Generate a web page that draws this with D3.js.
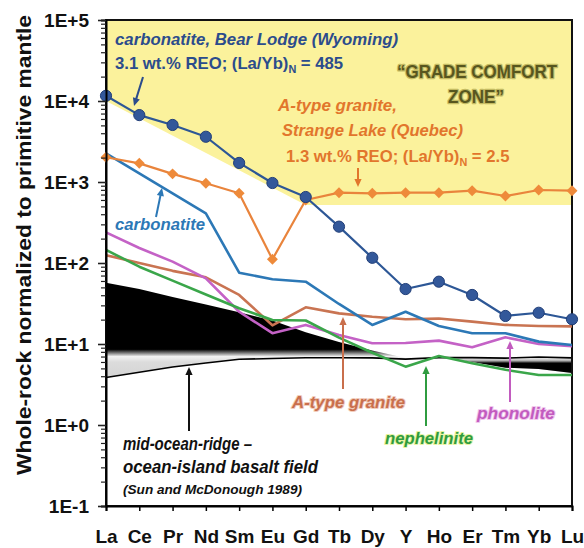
<!DOCTYPE html>
<html>
<head>
<meta charset="utf-8">
<script src="https://cdn.jsdelivr.net/npm/d3@7"></script>
<style>
  body { margin: 0; background: #fff; }
  svg { display: block; font-family: "Liberation Sans", Arial, sans-serif; font-weight: bold; }
</style>
</head>
<body>
<div id="chartArea"></div>
<script>
// REE + Y, normalized to primitive mantle
var categories = ['La','Ce','Pr','Nd','Sm','Eu','Gd','Tb','Dy','Y','Ho','Er','Tm','Yb','Lu'];
var bearLodge   = [11600, 6700, 5060, 3620, 1720, 972, 653, 281, 116, 47.7, 58.8, 40.3, 22.2, 24.3, 20.2];
var strangeLake = [2020, 1700, 1260, 965, 725, 111, 600, 738, 725, 738, 738, 781, 671, 797, 781];
var carbonatite = [2260, 1280, 725, 411, 75.9, 62.9, 58.8, 31.2, 17.2, 25, 16.7, 13.6, 13.6, 10.7, 9.7];
var aTypeGranite = [125, 100, 80, 66.6, 40.3, 17, 28.4, 23.9, 21.7, 20.2, 20.6, 18.9, 17.2, 16.7, 16.5];
var phonolite   = [239, 153, 104, 64.7, 25, 13.6, 17.2, 12.9, 10.2, 10.3, 11, 9.1, 12.1, 10, 9.4];
var nephelinite = [145, 90, 60.6, 40.8, 27.6, 19.8, 19.5, 12, 7.8, 5.25, 7.1, 5.8, 4.8, 4.14, 4.14];
// basalt field (Sun and McDonough 1989): OIB upper edge, N-MORB lower edge
var oibField  = [57, 47.8, 38, 30.8, 24.6, 19.5, 14, 10.6, 8.3, 6.7, 7.1, 6.0, 5.1, 4.9, 4.4];
var morbField = [3.86, 4.48, 5.2, 5.84, 6.48, 6.62, 6.76, 6.77, 6.75, 6.5, 6.78, 6.78, 6.7, 6.9, 6.74];
// "grade comfort zone" outline
var zoneCats = ['La','Lu','Lu','Gd','La'];
var zoneVals = [1e5, 1e5, 520, 520, 10000];
var yTickValues = [0.1, 1, 10, 100, 1000, 10000, 100000];
var yTickLabels = ['1E-1','1E+0','1E+1','1E+2','1E+3','1E+4','1E+5'];

var width = 584, height = 548;
var margin = {top: 20, right: 12, bottom: 42, left: 106};

var xscale = d3.scalePoint().domain(categories).range([margin.left, width - margin.right]);
var yscale = d3.scaleLog().domain([0.1, 1e5]).range([height - margin.bottom, margin.top]);

var svg = d3.select('#chartArea').append('svg')
    .attr('width', width)
    .attr('height', height);

var defs = svg.append('defs');
function gradient(id, stops) {
    // stops given as [value, colour]; converted to pixel offsets along y
    var y1 = yscale(stops[0][0]), y2 = yscale(stops[stops.length - 1][0]);
    var g = defs.append('linearGradient').attr('id', id)
        .attr('gradientUnits', 'userSpaceOnUse')
        .attr('x1', 0).attr('x2', 0).attr('y1', y1).attr('y2', y2);
    stops.forEach(function(s) {
        g.append('stop').attr('offset', (yscale(s[0]) - y1) / (y2 - y1)).attr('stop-color', s[1]);
    });
}
gradient('fieldGrad', [[60, '#000'], [8.6, '#000'], [7.0, '#f2f2f2'], [6.0, '#dcdcdc'], [3, '#d0d0d0']]);
gradient('wedgeGrad', [[7.0, '#555'], [6.6, '#e4e4e4'], [6.2, '#aaa'], [5.8, '#000'], [3, '#000']]);

// yellow zone
var zoneLine = d3.line().x(function(d){ return xscale(d[0]); }).y(function(d){ return yscale(d[1]); });
svg.append('path')
    .attr('d', zoneLine(d3.zip(zoneCats, zoneVals)) + 'Z')
    .attr('fill', '#fbf29c');

// basalt field
var field = categories.map(function(c, i){ return {c: c, oib: oibField[i], morb: morbField[i]}; });
var fieldArea = d3.area()
    .x(function(d){ return xscale(d.c); })
    .y0(function(d){ return yscale(d.morb); })
    .y1(function(d){ return yscale(d.oib); });
svg.append('path').attr('d', fieldArea(field)).attr('fill', 'url(#fieldGrad)');
svg.append('path').attr('d', fieldArea(field.slice(categories.indexOf('Ho'))))
    .attr('fill', 'url(#wedgeGrad)');
svg.append('path')
    .attr('d', d3.line().x(function(d){ return xscale(d.c); }).y(function(d){ return yscale(d.morb); })(field))
    .attr('fill', 'none').attr('stroke', '#000').attr('stroke-width', 1.6);

// frame
svg.append('rect')
    .attr('x', margin.left).attr('y', margin.top)
    .attr('width', width - margin.left - margin.right)
    .attr('height', height - margin.top - margin.bottom)
    .attr('fill', 'none').attr('stroke', '#111').attr('stroke-width', 2);

var line = d3.line()
    .x(function(d, i){ return xscale(categories[i]); })
    .y(function(d){ return yscale(d); });
function drawLine(data, color, w) {
    svg.append('path').datum(data)
        .attr('d', line)
        .attr('fill', 'none')
        .attr('stroke', color)
        .attr('stroke-width', w)
        .attr('stroke-linejoin', 'round');
}
drawLine(aTypeGranite, '#c97452', 2.6);
drawLine(phonolite, '#c462c6', 2.6);
drawLine(nephelinite, '#3aa64a', 2.6);
drawLine(carbonatite, '#2c78b6', 2.6);
drawLine(strangeLake, '#e9843c', 2.2);

svg.append('g').selectAll('path').data(strangeLake).enter().append('path')
    .attr('d', d3.symbol().type(d3.symbolSquare).size(60))
    .attr('transform', function(d, i){ return 'translate(' + xscale(categories[i]) + ',' + yscale(d) + ') rotate(45)'; })
    .attr('fill', '#ee8a3a');

drawLine(bearLodge, '#2d5796', 2.2);
svg.append('g').selectAll('circle').data(bearLodge).enter().append('circle')
    .attr('cx', function(d, i){ return xscale(categories[i]); })
    .attr('cy', function(d){ return yscale(d); })
    .attr('r', 5.6)
    .attr('fill', '#33589a')
    .attr('stroke', '#223f78')
    .attr('stroke-width', 1);

// y axis with log minor ticks
var minor = [];
for (var e = -1; e < 5; e++) for (var m = 1; m < 10; m++) minor.push(m * Math.pow(10, e));
minor.push(1e5);
var yAxis = svg.append('g')
    .attr('transform', 'translate(' + margin.left + ',0)')
    .call(d3.axisLeft(yscale).tickValues(minor).tickSize(5).tickPadding(12)
        .tickFormat(function(d){ var k = yTickValues.indexOf(d); return k < 0 ? '' : yTickLabels[k]; }));
yAxis.select('.domain').attr('stroke-width', 2);
yAxis.selectAll('.tick line').attr('stroke', '#222').attr('stroke-width', 1.2)
    .filter(function(d){ return yTickValues.indexOf(d) >= 0; }).attr('x2', -8).attr('stroke-width', 1.6);
yAxis.selectAll('text').attr('font-size', 19).attr('font-weight', 'bold')
    .attr('font-family', '"Liberation Sans", Arial, sans-serif').attr('fill', '#111');

// x axis
var xAxis = svg.append('g')
    .attr('transform', 'translate(0,' + (height - margin.bottom) + ')')
    .call(d3.axisBottom(xscale).tickSize(5).tickPadding(18.5));
xAxis.select('.domain').attr('stroke-width', 2);
xAxis.selectAll('.tick line').attr('stroke-width', 1.5);
xAxis.selectAll('text').attr('font-size', 19).attr('font-weight', 'bold')
    .attr('font-family', '"Liberation Sans", Arial, sans-serif').attr('fill', '#111');

// y axis title
svg.append('text')
    .attr('transform', 'translate(31,245) rotate(-90)')
    .attr('text-anchor', 'middle')
    .attr('font-size', 20)
    .attr('textLength', 460)
    .attr('lengthAdjust', 'spacingAndGlyphs')
    .attr('fill', '#111')
    .text('Whole-rock normalized to primitive mantle');

// annotations
function note(x, y, str, color, size, opts) {
    opts = opts || {};
    var t = svg.append('text')
        .attr('x', x).attr('y', y)
        .attr('font-size', size)
        .attr('fill', color)
        .attr('text-anchor', opts.anchor || 'start')
        .style('font-style', opts.italic === false ? 'normal' : 'italic');
    if (opts.len) t.attr('textLength', opts.len).attr('lengthAdjust', 'spacingAndGlyphs');
    if (opts.halo) t.attr('stroke', opts.halo).attr('stroke-width', opts.haloWidth || 2)
        .attr('paint-order', 'stroke').attr('stroke-linejoin', 'round');
    if (opts.sub) {
        t.append('tspan').text(str);
        t.append('tspan').attr('font-size', size * 0.65).attr('dy', 4).text(opts.sub);
        t.append('tspan').attr('dy', -4).text(opts.after);
    } else {
        t.text(str);
    }
    return t;
}
function arrow(x1, y1, x2, y2, color) {
    var a = Math.atan2(y2 - y1, x2 - x1), L = 8, W = 3.6;
    svg.append('line').attr('x1', x1).attr('y1', y1)
        .attr('x2', x2 - Math.cos(a) * L * 0.6).attr('y2', y2 - Math.sin(a) * L * 0.6)
        .attr('stroke', color).attr('stroke-width', 2);
    var bx = x2 - Math.cos(a) * L, by = y2 - Math.sin(a) * L;
    svg.append('path')
        .attr('d', 'M' + x2 + ',' + y2 +
             'L' + (bx - Math.sin(a) * W) + ',' + (by + Math.cos(a) * W) +
             'L' + (bx + Math.sin(a) * W) + ',' + (by - Math.cos(a) * W) + 'Z')
        .attr('fill', color);
}

var navy = '#2b4c8c';
note(115, 45, 'carbonatite, Bear Lodge (Wyoming)', navy, 17, {len: 283});
note(115, 69, '3.1 wt.% REO; (La/Yb)', navy, 16.7, {italic: false, sub: 'N', after: ' = 485'});
arrow(143, 77, 134, 106, navy);

note(477, 78, '\u201CGRADE COMFORT', '#57561f', 18, {italic: false, anchor: 'middle', len: 160, halo: '#c4bb62', haloWidth: 2.5});
note(476, 103, 'ZONE\u201D', '#57561f', 18, {italic: false, anchor: 'middle', len: 56, halo: '#c4bb62', haloWidth: 2.5});

var orange = '#e2762c';
note(278, 111, 'A-type granite,', orange, 17, {len: 119});
note(282, 136, 'Strange Lake (Quebec)', orange, 17, {len: 181});
note(286, 162, '1.3 wt.% REO; (La/Yb)', orange, 16.7, {italic: false, sub: 'N', after: ' = 2.5'});
arrow(358, 168, 358, 187, orange);

note(115, 230, 'carbonatite', '#2c78b6', 17, {len: 90});
arrow(156, 217, 162, 188, '#2c78b6');

note(292, 408, 'A-type granite', '#c96f4c', 17, {len: 113, halo: '#f1cdbd', haloWidth: 2});
arrow(343, 389, 343, 317, '#c96f4c');

note(385, 444, 'nephelinite', '#2f9c40', 17, {len: 88, halo: '#e9f3a0', haloWidth: 2});
arrow(426, 426, 426, 366, '#2f9c40');

note(477, 419, 'phonolite', '#c25bbf', 17, {len: 78, halo: '#f1c8ee', haloWidth: 2});
arrow(510, 402, 510, 341, '#c25bbf');

note(123, 450, 'mid-ocean-ridge \u2013', '#111', 19, {len: 129});
note(123, 473, 'ocean-island basalt field', '#111', 19, {len: 195});
note(123, 494, '(Sun and McDonough 1989)', '#111', 13.5, {len: 179});
arrow(189, 431, 189, 367, '#111');
</script>
</body>
</html>
